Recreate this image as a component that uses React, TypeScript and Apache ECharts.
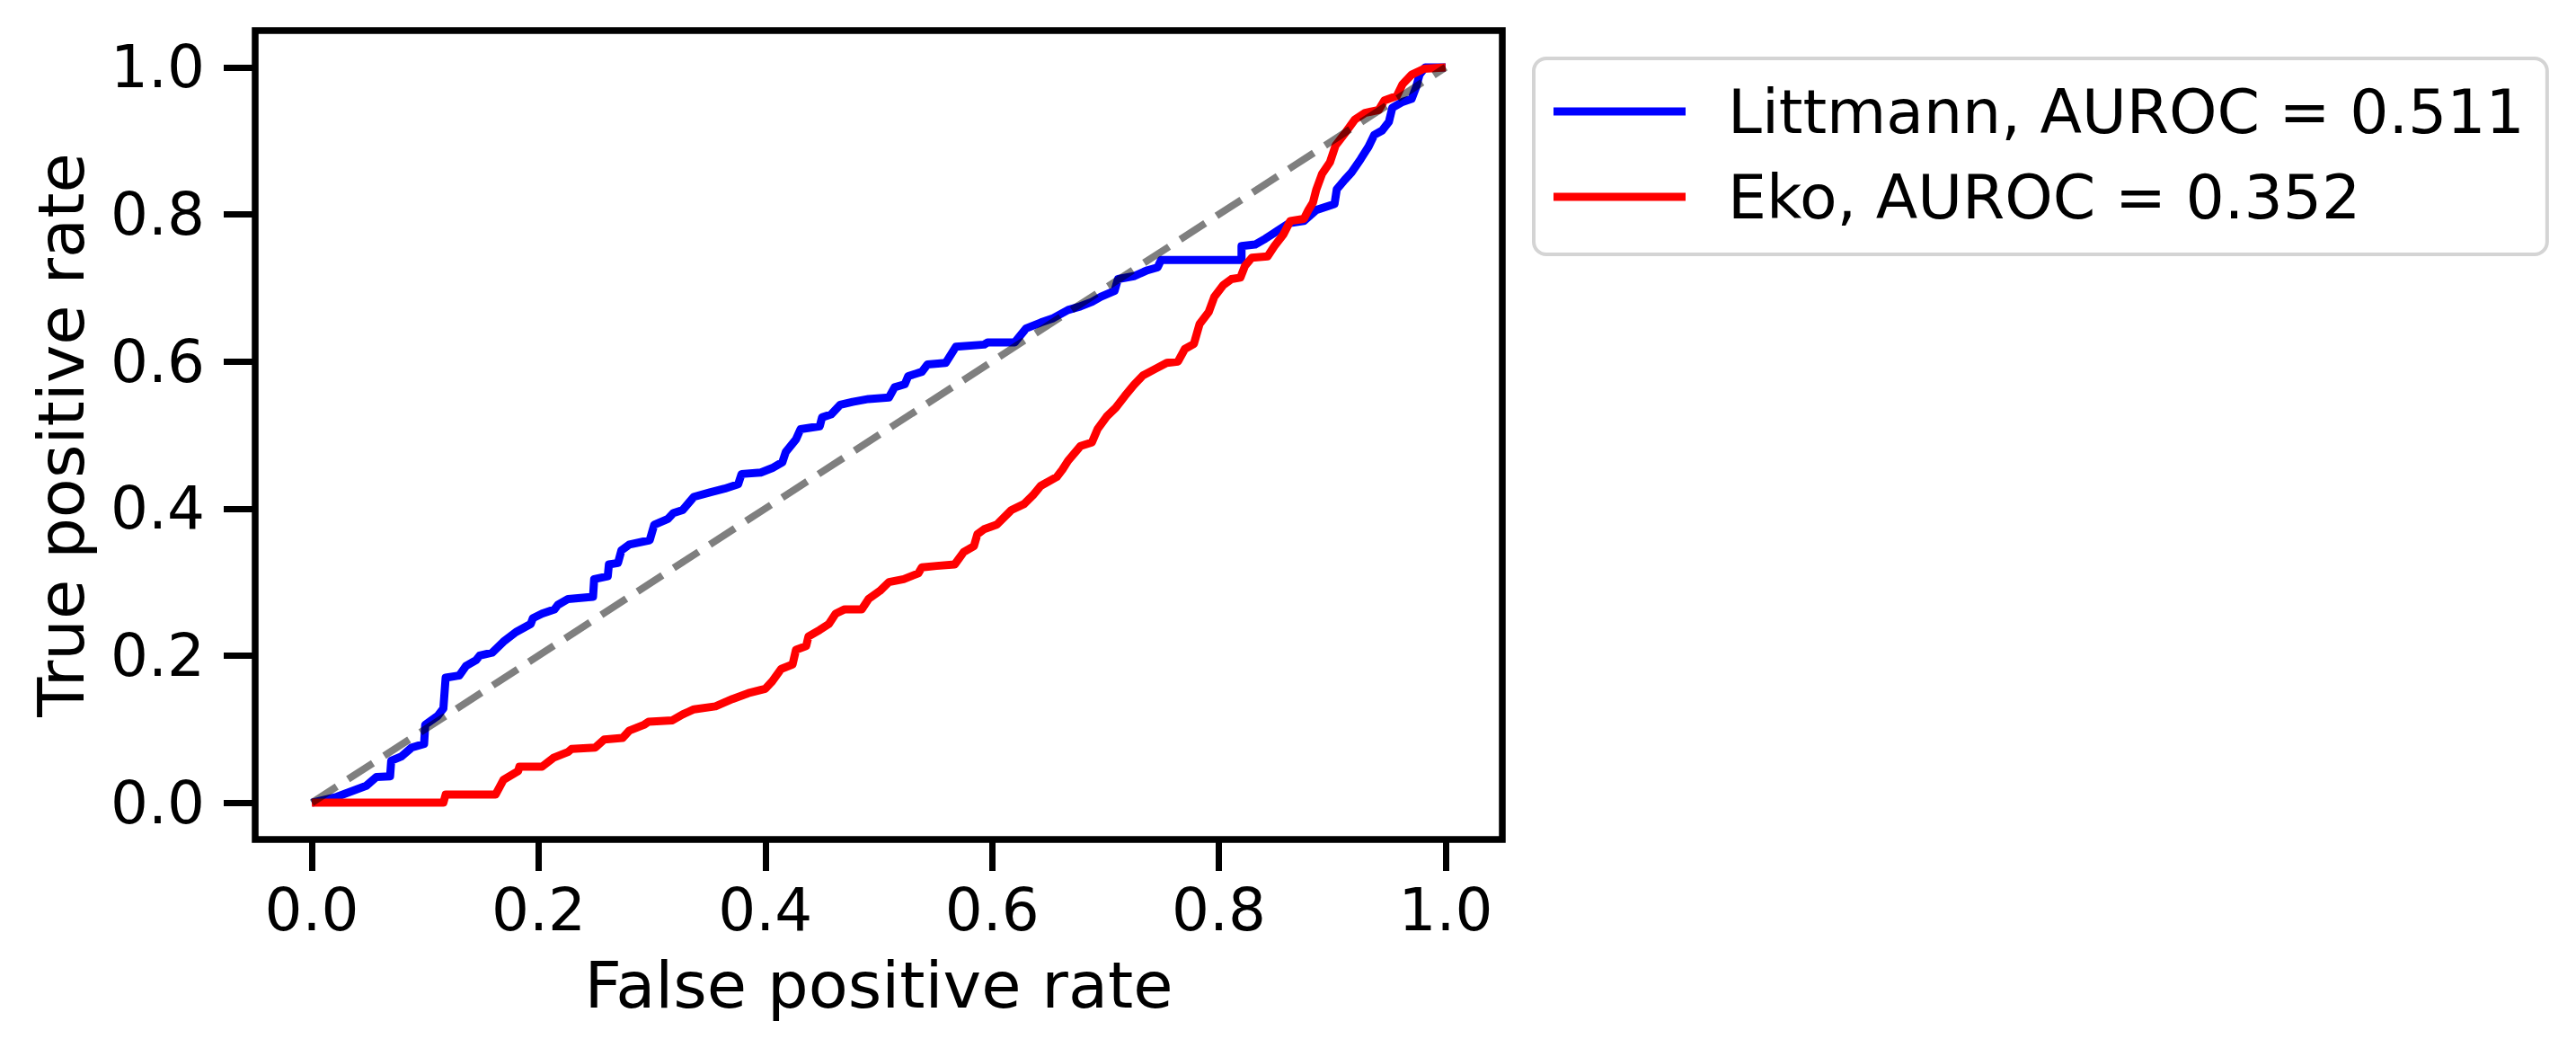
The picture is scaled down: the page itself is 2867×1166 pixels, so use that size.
import React, { useEffect, useRef } from "react";
import * as echarts from "echarts";

const tickValues = [0, 0.2, 0.4, 0.6, 0.8, 1.0];
const seriesNames = ["Littmann, AUROC = 0.511", "Eko, AUROC = 0.352"];

const littmannFpr = [0, 0.022, 0.048, 0.057, 0.069, 0.070, 0.079, 0.088, 0.099, 0.100, 0.111, 0.116, 0.118, 0.130, 0.136, 0.145, 0.148, 0.159, 0.169, 0.180, 0.193, 0.195, 0.203, 0.214, 0.217, 0.226, 0.248, 0.249, 0.261, 0.262, 0.270, 0.273, 0.280, 0.298, 0.302, 0.314, 0.319, 0.327, 0.337, 0.351, 0.364, 0.376, 0.379, 0.396, 0.406, 0.415, 0.418, 0.427, 0.431, 0.448, 0.450, 0.458, 0.466, 0.477, 0.491, 0.509, 0.514, 0.523, 0.526, 0.538, 0.543, 0.559, 0.568, 0.593, 0.596, 0.620, 0.630, 0.643, 0.654, 0.667, 0.678, 0.688, 0.696, 0.708, 0.711, 0.725, 0.737, 0.746, 0.749, 0.820, 0.820, 0.832, 0.841, 0.851, 0.862, 0.875, 0.886, 0.902, 0.904, 0.911, 0.917, 0.925, 0.932, 0.937, 0.944, 0.950, 0.953, 0.962, 0.970, 0.974, 0.977, 0.982, 1.0];
const littmannTpr = [0, 0.008, 0.023, 0.035, 0.036, 0.057, 0.063, 0.075, 0.080, 0.106, 0.118, 0.128, 0.170, 0.173, 0.186, 0.194, 0.200, 0.204, 0.219, 0.232, 0.243, 0.251, 0.257, 0.263, 0.269, 0.277, 0.280, 0.304, 0.308, 0.324, 0.326, 0.343, 0.351, 0.357, 0.378, 0.386, 0.394, 0.398, 0.416, 0.422, 0.427, 0.433, 0.447, 0.449, 0.455, 0.463, 0.477, 0.494, 0.508, 0.512, 0.524, 0.528, 0.541, 0.545, 0.549, 0.551, 0.565, 0.569, 0.580, 0.586, 0.596, 0.598, 0.620, 0.623, 0.626, 0.626, 0.645, 0.653, 0.659, 0.670, 0.675, 0.681, 0.688, 0.696, 0.712, 0.716, 0.724, 0.728, 0.738, 0.738, 0.757, 0.759, 0.767, 0.777, 0.788, 0.791, 0.806, 0.814, 0.834, 0.847, 0.857, 0.875, 0.892, 0.908, 0.914, 0.926, 0.945, 0.953, 0.957, 0.973, 0.990, 1.0, 1.0];

const ekoFpr = [0, 0.116, 0.118, 0.162, 0.169, 0.182, 0.183, 0.203, 0.213, 0.226, 0.229, 0.250, 0.258, 0.274, 0.280, 0.293, 0.297, 0.318, 0.327, 0.337, 0.356, 0.371, 0.385, 0.400, 0.406, 0.414, 0.424, 0.427, 0.436, 0.438, 0.448, 0.456, 0.462, 0.470, 0.485, 0.491, 0.501, 0.509, 0.522, 0.535, 0.538, 0.551, 0.567, 0.575, 0.584, 0.587, 0.593, 0.604, 0.617, 0.628, 0.636, 0.643, 0.657, 0.662, 0.667, 0.678, 0.688, 0.693, 0.701, 0.709, 0.717, 0.725, 0.733, 0.744, 0.754, 0.764, 0.770, 0.778, 0.783, 0.791, 0.796, 0.804, 0.811, 0.819, 0.823, 0.829, 0.843, 0.849, 0.857, 0.863, 0.875, 0.879, 0.883, 0.886, 0.891, 0.898, 0.903, 0.912, 0.920, 0.929, 0.941, 0.946, 0.957, 0.962, 0.970, 0.981, 1.0];
const ekoTpr = [0, 0, 0.011, 0.011, 0.031, 0.043, 0.049, 0.049, 0.061, 0.069, 0.073, 0.075, 0.086, 0.088, 0.098, 0.106, 0.110, 0.112, 0.120, 0.127, 0.131, 0.141, 0.149, 0.155, 0.165, 0.182, 0.188, 0.208, 0.213, 0.226, 0.235, 0.243, 0.257, 0.263, 0.263, 0.277, 0.288, 0.300, 0.304, 0.312, 0.320, 0.322, 0.324, 0.341, 0.349, 0.365, 0.372, 0.378, 0.398, 0.406, 0.418, 0.431, 0.443, 0.453, 0.465, 0.485, 0.490, 0.508, 0.525, 0.537, 0.553, 0.568, 0.581, 0.590, 0.598, 0.600, 0.617, 0.624, 0.651, 0.667, 0.688, 0.704, 0.712, 0.714, 0.730, 0.741, 0.743, 0.757, 0.773, 0.791, 0.794, 0.806, 0.816, 0.834, 0.855, 0.871, 0.894, 0.912, 0.929, 0.938, 0.942, 0.955, 0.961, 0.977, 0.990, 0.998, 1.0];

const chanceLine = [0, 1];

const FONT = "DejaVu Sans";

function zip(xs: number[], ys: number[]): number[][] {
  return xs.map((x, i) => [x, ys[i]]);
}

export default function App() {
  const ref = useRef<HTMLDivElement>(null);

  useEffect(() => {
    const chart = echarts.init(ref.current as HTMLDivElement, null, { renderer: "svg" });
    const axisCommon = {
      type: "value" as const,
      min: -0.05,
      max: 1.05,
      axisLine: { show: false, onZero: false },
      splitLine: { show: false },
      axisTick: {
        show: true,
        customValues: tickValues,
        length: 35,
        lineStyle: { color: "#000000", width: 7 },
      },
      nameLocation: "middle" as const,
      nameTextStyle: { fontSize: 72, color: "#000000", fontFamily: FONT },
    };
    chart.setOption({
      animation: false,
      backgroundColor: "#ffffff",
      grid: {
        left: 284,
        top: 34,
        width: 1388,
        height: 900,
        show: true,
        borderColor: "#000000",
        borderWidth: 7.5,
        backgroundColor: "transparent",
      },
      xAxis: {
        ...axisCommon,
        name: "False positive rate",
        nameGap: 126,
        axisLabel: {
          customValues: tickValues,
          formatter: (v: number) => v.toFixed(1),
          fontSize: 66,
          color: "#000000",
          fontFamily: FONT,
          margin: 45,
        },
      },
      yAxis: {
        ...axisCommon,
        name: "True positive rate",
        nameGap: 180,
        axisLabel: {
          customValues: tickValues,
          formatter: (v: number) => v.toFixed(1),
          fontSize: 66,
          color: "#000000",
          fontFamily: FONT,
          margin: 56,
        },
      },
      legend: {
        show: true,
        data: [
          { name: seriesNames[0], icon: "rect", itemStyle: { color: "#0000ff" } },
          { name: seriesNames[1], icon: "rect", itemStyle: { color: "#ff0000" } },
        ],
        left: 1707,
        top: 65,
        orient: "vertical",
        padding: [24, 25, 29, 22],
        itemWidth: 147,
        itemHeight: 9,
        itemGap: 25,
        borderColor: "#d4d4d4",
        borderWidth: 4,
        borderRadius: 14,
        backgroundColor: "#ffffff",
        selectedMode: false,
        textStyle: {
          fontSize: 68,
          fontFamily: FONT,
          color: "#000000",
          lineHeight: 70,
          padding: [0, 0, 0, 42],
        },
      },
      series: [
        {
          name: seriesNames[0],
          type: "line",
          data: zip(littmannFpr, littmannTpr),
          symbol: "none",
          lineStyle: { color: "#0000ff", width: 9, join: "round" },
          itemStyle: { color: "#0000ff" },
          z: 2,
        },
        {
          name: seriesNames[1],
          type: "line",
          data: zip(ekoFpr, ekoTpr),
          symbol: "none",
          lineStyle: { color: "#ff0000", width: 9, join: "round" },
          itemStyle: { color: "#ff0000" },
          z: 3,
        },
        {
          name: "chance",
          type: "line",
          data: zip(chanceLine, chanceLine),
          symbol: "none",
          silent: true,
          lineStyle: { color: "rgba(0,0,0,0.5)", width: 8, type: [33, 15] },
          itemStyle: { color: "rgba(0,0,0,0.5)" },
          z: 4,
        },
      ],
    });
    return () => chart.dispose();
  }, []);

  return (
    <div
      ref={ref}
      style={{ position: "absolute", left: 0, top: 0, width: 2867, height: 1166, background: "#ffffff" }}
    />
  );
}
